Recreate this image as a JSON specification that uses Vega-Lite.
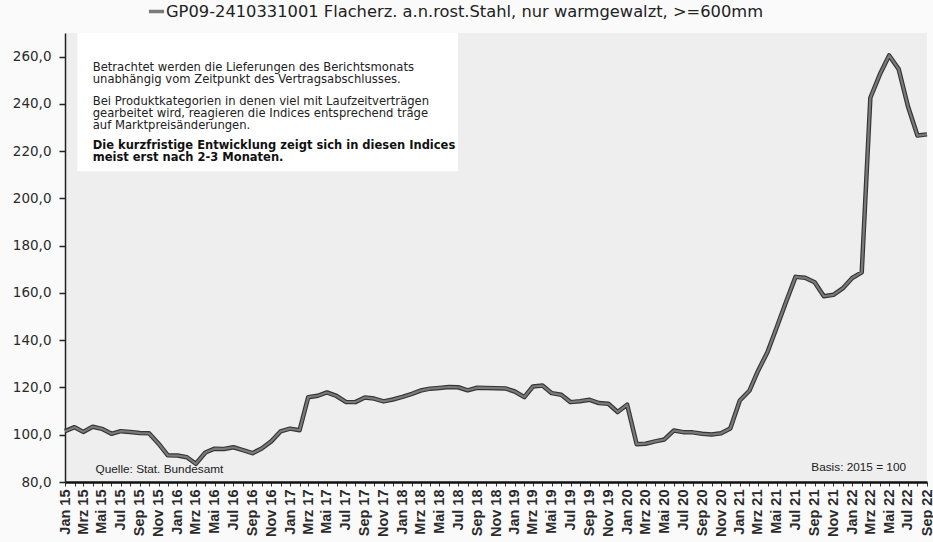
{
  "$schema": "https://vega.github.io/schema/vega-lite/v6.json",
  "width": 862,
  "height": 449,
  "autosize": {"type": "none"},
  "padding": {"left": 65, "top": 33, "right": 6, "bottom": 60},
  "background": "#fafafa",
  "config": {
    "view": {"stroke": null, "fill": "#eeeeee"},
    "font": "Liberation Sans"
  },
  "datasets": {
    "series": [
      {"month": "2015-01-01", "index": 101.5}, {"month": "2015-02-01", "index": 103.2}, {"month": "2015-03-01", "index": 101.2}, {"month": "2015-04-01", "index": 103.4},
      {"month": "2015-05-01", "index": 102.5}, {"month": "2015-06-01", "index": 100.4}, {"month": "2015-07-01", "index": 101.5}, {"month": "2015-08-01", "index": 101.2},
      {"month": "2015-09-01", "index": 100.7}, {"month": "2015-10-01", "index": 100.6}, {"month": "2015-11-01", "index": 96.2}, {"month": "2015-12-01", "index": 91.3},
      {"month": "2016-01-01", "index": 91.2}, {"month": "2016-02-01", "index": 90.5}, {"month": "2016-03-01", "index": 87.7}, {"month": "2016-04-01", "index": 92.5},
      {"month": "2016-05-01", "index": 94.1}, {"month": "2016-06-01", "index": 94.0}, {"month": "2016-07-01", "index": 94.7}, {"month": "2016-08-01", "index": 93.5},
      {"month": "2016-09-01", "index": 92.2}, {"month": "2016-10-01", "index": 94.2}, {"month": "2016-11-01", "index": 97.2}, {"month": "2016-12-01", "index": 101.4},
      {"month": "2017-01-01", "index": 102.6}, {"month": "2017-02-01", "index": 101.9}, {"month": "2017-03-01", "index": 115.9}, {"month": "2017-04-01", "index": 116.5},
      {"month": "2017-05-01", "index": 117.9}, {"month": "2017-06-01", "index": 116.4}, {"month": "2017-07-01", "index": 113.9}, {"month": "2017-08-01", "index": 113.8},
      {"month": "2017-09-01", "index": 115.8}, {"month": "2017-10-01", "index": 115.3}, {"month": "2017-11-01", "index": 114.1}, {"month": "2017-12-01", "index": 114.9},
      {"month": "2018-01-01", "index": 116.0}, {"month": "2018-02-01", "index": 117.3}, {"month": "2018-03-01", "index": 118.7}, {"month": "2018-04-01", "index": 119.5},
      {"month": "2018-05-01", "index": 119.8}, {"month": "2018-06-01", "index": 120.2}, {"month": "2018-07-01", "index": 120.1}, {"month": "2018-08-01", "index": 118.8},
      {"month": "2018-09-01", "index": 119.9}, {"month": "2018-10-01", "index": 119.8}, {"month": "2018-11-01", "index": 119.7}, {"month": "2018-12-01", "index": 119.6},
      {"month": "2019-01-01", "index": 118.3}, {"month": "2019-02-01", "index": 115.9}, {"month": "2019-03-01", "index": 120.4}, {"month": "2019-04-01", "index": 120.8},
      {"month": "2019-05-01", "index": 117.6}, {"month": "2019-06-01", "index": 116.9}, {"month": "2019-07-01", "index": 113.8}, {"month": "2019-08-01", "index": 114.2},
      {"month": "2019-09-01", "index": 114.8}, {"month": "2019-10-01", "index": 113.4}, {"month": "2019-11-01", "index": 113.1}, {"month": "2019-12-01", "index": 109.6},
      {"month": "2020-01-01", "index": 112.7}, {"month": "2020-02-01", "index": 96.0}, {"month": "2020-03-01", "index": 96.2}, {"month": "2020-04-01", "index": 97.2},
      {"month": "2020-05-01", "index": 98.0}, {"month": "2020-06-01", "index": 101.8}, {"month": "2020-07-01", "index": 101.1}, {"month": "2020-08-01", "index": 101.0},
      {"month": "2020-09-01", "index": 100.4}, {"month": "2020-10-01", "index": 100.1}, {"month": "2020-11-01", "index": 100.6}, {"month": "2020-12-01", "index": 102.6},
      {"month": "2021-01-01", "index": 114.5}, {"month": "2021-02-01", "index": 118.6}, {"month": "2021-03-01", "index": 127.0}, {"month": "2021-04-01", "index": 135.0},
      {"month": "2021-05-01", "index": 145.5}, {"month": "2021-06-01", "index": 156.5}, {"month": "2021-07-01", "index": 166.8}, {"month": "2021-08-01", "index": 166.4},
      {"month": "2021-09-01", "index": 164.5}, {"month": "2021-10-01", "index": 158.6}, {"month": "2021-11-01", "index": 159.2}, {"month": "2021-12-01", "index": 161.9},
      {"month": "2022-01-01", "index": 166.3}, {"month": "2022-02-01", "index": 168.7}, {"month": "2022-03-01", "index": 242.6}, {"month": "2022-04-01", "index": 252.5},
      {"month": "2022-05-01", "index": 260.5}, {"month": "2022-06-01", "index": 254.7}, {"month": "2022-07-01", "index": 239.0}, {"month": "2022-08-01", "index": 226.6},
      {"month": "2022-09-01", "index": 227.1}
    ]
  },
  "layer": [
    {
      "data": {"values": [{}]},
      "mark": {"type": "rect", "fill": "#ffffff"},
      "encoding": {
        "x": {
          "datum": {"year": 2015, "month": 2, "date": 10, "utc": true},
          "type": "temporal",
          "scale": {"type": "utc", "nice": false},
          "axis": {
            "title": null,
            "grid": false,
            "tickCount": {"interval": "month", "step": 1},
            "labelExpr": "utcmonth(datum.value) % 2 === 0 ? ['Jan','Feb','Mrz','Apr','Mai','Jun','Jul','Aug','Sep','Okt','Nov','Dez'][utcmonth(datum.value)] + ' ' + utcFormat(datum.value, '%y') : ''",
            "labelAngle": 270,
            "labelFont": "Liberation Sans",
            "labelFontSize": 14.5,
            "labelFontWeight": "bold",
            "labelColor": "#2a2a2a",
            "labelPadding": 3,
            "labelOverlap": false,
            "labelBound": false,
            "labelFlush": false,
            "tickSize": 4,
            "tickColor": "#333",
            "domainColor": "#111",
            "domainWidth": 2.5
          }
        },
        "x2": {"datum": {"year": 2018, "month": 7, "date": 1, "utc": true}},
        "y": {
          "datum": 211.5,
          "type": "quantitative",
          "scale": {"domain": [80, 270], "nice": false, "zero": false},
          "axis": {
            "title": null,
            "values": [80, 90, 100, 110, 120, 130, 140, 150, 160, 170, 180, 190, 200, 210, 220, 230, 240, 250, 260],
            "labelExpr": "datum.value % 20 === 0 ? replace(format(datum.value, '.1f'), '.', ',') : ''",
            "labelFont": "DejaVu Sans",
            "labelFontSize": 13.5,
            "labelColor": "#2a2a2a",
            "labelPadding": 8,
            "tickSize": 6,
            "tickColor": {"condition": {"test": "datum.value % 20 === 0", "value": "#222"}, "value": "transparent"},
            "tickWidth": 1.5,
            "gridColor": {"condition": {"test": "datum.value % 20 === 0", "value": "#262626"}, "value": "#d6d6d6"},
            "gridWidth": {"condition": {"test": "datum.value % 20 === 0", "value": 1.5}, "value": 1},
            "gridOpacity": 1,
            "domainColor": "#222",
            "domainWidth": 1.5
          }
        },
        "y2": {"datum": 270}
      }
    },
    {
      "data": {"name": "series"},
      "mark": {"type": "line", "stroke": "#353535", "strokeWidth": 4.5, "strokeJoin": "round"},
      "encoding": {
        "x": {"field": "month", "type": "temporal"},
        "y": {"field": "index", "type": "quantitative"}
      }
    },
    {
      "data": {"name": "series"},
      "mark": {"type": "line", "strokeWidth": 2.2, "strokeJoin": "round"},
      "encoding": {
        "x": {"field": "month", "type": "temporal"},
        "y": {"field": "index", "type": "quantitative"},
        "color": {
          "datum": "GP09-2410331001 Flacherz. a.n.rost.Stahl, nur warmgewalzt, >=600mm",
          "scale": {"range": ["#7a7a7a"]},
          "legend": {
            "orient": "none",
            "legendX": 82,
            "legendY": -31,
            "title": null,
            "symbolType": "stroke",
            "symbolSize": 230,
            "symbolStrokeWidth": 3.5,
            "symbolStrokeColor": "#444",
            "labelFont": "DejaVu Sans",
            "labelFontSize": 16.3,
            "labelColor": "#222",
            "labelLimit": 900,
            "labelOffset": 0,
            "padding": 0
          }
        }
      }
    },
    {
      "data": {"values": [{"lines": ["Betrachtet werden die Lieferungen des Berichtsmonats", "unabhängig vom Zeitpunkt des Vertragsabschlusses."]}]},
      "mark": {"type": "text", "align": "left", "baseline": "top", "font": "DejaVu Sans", "fontSize": 11.6, "lineHeight": 12.2, "color": "#222"},
      "encoding": {
        "x": {"datum": {"year": 2015, "month": 4, "date": 1, "utc": true}, "type": "temporal"},
        "y": {"datum": 257.6, "type": "quantitative"},
        "text": {"field": "lines"}
      }
    },
    {
      "data": {"values": [{"lines": ["Bei Produktkategorien in denen viel mit Laufzeitverträgen", "gearbeitet wird, reagieren die Indices entsprechend träge", "auf Marktpreisänderungen."]}]},
      "mark": {"type": "text", "align": "left", "baseline": "top", "font": "DejaVu Sans", "fontSize": 11.6, "lineHeight": 12.2, "color": "#222"},
      "encoding": {
        "x": {"datum": {"year": 2015, "month": 4, "date": 1, "utc": true}, "type": "temporal"},
        "y": {"datum": 243.3, "type": "quantitative"},
        "text": {"field": "lines"}
      }
    },
    {
      "data": {"values": [{"lines": ["Die kurzfristige Entwicklung zeigt sich in diesen Indices", "meist erst nach 2-3 Monaten."]}]},
      "mark": {"type": "text", "align": "left", "baseline": "top", "font": "DejaVu Sans", "fontSize": 11.5, "fontWeight": "bold", "lineHeight": 12.2, "color": "#111"},
      "encoding": {
        "x": {"datum": {"year": 2015, "month": 4, "date": 1, "utc": true}, "type": "temporal"},
        "y": {"datum": 224.6, "type": "quantitative"},
        "text": {"field": "lines"}
      }
    },
    {
      "data": {"values": [{"label": "Quelle: Stat. Bundesamt"}]},
      "mark": {"type": "text", "align": "left", "baseline": "middle", "fontSize": 11.8, "color": "#222"},
      "encoding": {
        "x": {"datum": {"year": 2015, "month": 4, "date": 10, "utc": true}, "type": "temporal"},
        "y": {"datum": 85.4, "type": "quantitative"},
        "text": {"field": "label"}
      }
    },
    {
      "data": {"values": [{"label": "Basis: 2015 = 100"}]},
      "mark": {"type": "text", "align": "right", "baseline": "middle", "fontSize": 11.8, "color": "#222"},
      "encoding": {
        "x": {"datum": {"year": 2022, "month": 6, "date": 25, "utc": true}, "type": "temporal"},
        "y": {"datum": 86.2, "type": "quantitative"},
        "text": {"field": "label"}
      }
    }
  ]
}
